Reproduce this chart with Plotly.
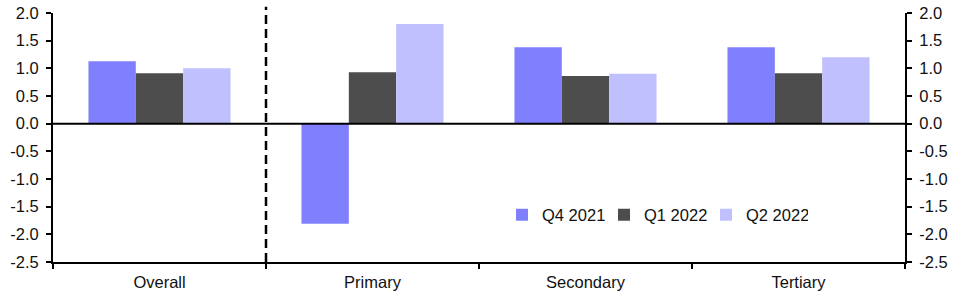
import plotly.graph_objects as go

categories = ["Overall", "Primary", "Secondary", "Tertiary"]
series_names = ["Q4 2021", "Q1 2022", "Q2 2022"]
q4_2021 = [1.13, -1.81, 1.38, 1.38]
q1_2022 = [0.91, 0.93, 0.86, 0.91]
q2_2022 = [1.00, 1.80, 0.90, 1.20]
colors = ["#8080ff", "#4d4d4d", "#c0c0ff"]
y_ticks = [2.0, 1.5, 1.0, 0.5, 0.0, -0.5, -1.0, -1.5, -2.0, -2.5]

fig = go.Figure()
for name, vals, c in zip(series_names, [q4_2021, q1_2022, q2_2022], colors):
    fig.add_trace(go.Bar(x=categories, y=vals, name=name, marker=dict(color=c, line=dict(width=0))))

# invisible trace to activate right axis
fig.add_trace(go.Scatter(x=categories, y=[0]*4, yaxis="y2", mode="markers",
                         marker=dict(opacity=0), showlegend=False, hoverinfo="skip"))

font = dict(family="Liberation Sans, Arial, sans-serif", size=16.5, color="#111111")
yax = dict(range=[-2.5, 2.0], tickvals=y_ticks, ticktext=[f"{v:.1f}" for v in y_ticks],
           showgrid=False, ticks="outside", ticklen=5, tickcolor="black", tickwidth=2,
           showline=True, linecolor="black", linewidth=2, tickfont=font, zeroline=False,
           automargin=False, ticklabelstandoff=4)

fig.update_layout(
    width=966, height=294,
    margin=dict(l=53, r=61, t=13, b=32, autoexpand=False),
    plot_bgcolor="white", paper_bgcolor="white",
    font=font,
    barmode="group", bargap=0.333, bargroupgap=0,
    xaxis=dict(type="category", tickson="boundaries", ticks="outside", ticklen=5,
               tickcolor="black", tickwidth=2, showline=True, linecolor="black",
               linewidth=2, showgrid=False, tickfont=font, range=[-0.5, 3.5],
               automargin=False, ticklabelstandoff=4),
    yaxis=yax,
    yaxis2=dict(yax, overlaying="y", side="right"),
    legend=dict(orientation="h", x=0.527, y=0.189, xanchor="left", yanchor="middle",
                font=font, bgcolor="rgba(0,0,0,0)", itemwidth=30, tracegroupgap=0,
                entrywidth=57, borderwidth=0),
    showlegend=True,
    shapes=[
        dict(type="line", xref="x", yref="paper", x0=0.5, x1=0.5, y0=0, y1=1.025,
             line=dict(color="black", width=2.5, dash="9px,5px")),
        dict(type="line", xref="paper", yref="y", x0=0, x1=1, y0=0, y1=0,
             line=dict(color="black", width=2)),
    ],
)

fig.write_html("out.html")
